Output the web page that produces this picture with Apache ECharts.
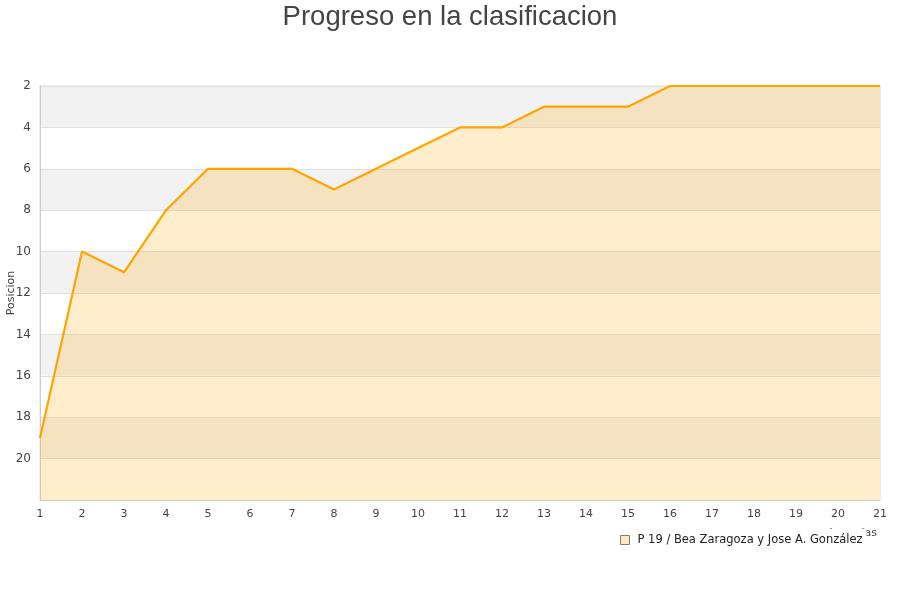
<!DOCTYPE html>
<html><head><meta charset="utf-8">
<script src="https://cdn.jsdelivr.net/npm/echarts@6/dist/echarts.min.js"></script>
<style>html,body{margin:0;padding:0;background:#fff}#c{width:900px;height:600px}</style>
</head><body><div id="c"></div>
<script>
var jornadas = [1,2,3,4,5,6,7,8,9,10,11,12,13,14,15,16,17,18,19,20,21];
var posiciones = [19,10,11,8,6,6,6,7,6,5,4,4,3,3,3,2,2,2,2,2,2];
var seriesName = 'P 19 / Bea Zaragoza y Jose A. González';
var titleText = 'Progreso en la clasificacion';
var yName = 'Posicion';
var xName = 'Jornadas';

var chart = echarts.init(document.getElementById('c'));
chart.setOption({
  animation: false,
  title: { text: titleText, left: 'center', top: -2,
    textStyle: { fontFamily: 'Liberation Sans', fontSize: 27.5, fontWeight: 'normal', color: '#444' } },
  grid: { left: 40, right: 20, top: 86, bottom: 100, show: true, borderColor: '#dcdcdc', borderWidth: 1, backgroundColor: 'transparent', outerBoundsMode: 'none', containLabel: false },
  legend: {
    left: 614, top: 529, padding: [5, 4, 6, 6], backgroundColor: '#fff',
    itemWidth: 9, itemHeight: 9, icon: 'rect', itemGap: 8,
    textStyle: { fontFamily: 'DejaVu Sans', fontSize: 11.5, color: '#222', padding: [0, 0, 0, 3] },
    data: [{ name: seriesName, itemStyle: { color: '#fde9c4', borderColor: '#8a7a60', borderWidth: 1 } }]
  },
  xAxis: {
    type: 'value', min: 1, max: 21, interval: 1,
    name: xName, nameLocation: 'end', nameGap: 0, nameMoveOverlap: false,
    nameTextStyle: { fontFamily: 'DejaVu Sans', fontSize: 11, color: '#444', align: 'right', verticalAlign: 'top', padding: [28, 3, 0, 0] },
    axisLine: { lineStyle: { color: '#cccccc' } },
    axisTick: { show: false },
    splitLine: { show: false },
    axisLabel: { fontFamily: 'DejaVu Sans', fontSize: 11, color: '#444', margin: 9 }
  },
  yAxis: {
    type: 'value', inverse: true, min: 2, max: 22, interval: 2,
    name: yName, nameLocation: 'middle', nameGap: 23, nameMoveOverlap: false,
    nameTextStyle: { fontFamily: 'DejaVu Sans', fontSize: 11, color: '#444' },
    axisLine: { show: true, lineStyle: { color: '#cccccc' } },
    axisTick: { show: false },
    axisLabel: { fontFamily: 'DejaVu Sans', fontSize: 12, color: '#444', margin: 9, showMaxLabel: false },
    splitLine: { show: true, lineStyle: { color: '#e0e0e0' } },
    splitArea: { show: true, areaStyle: { color: ['#f2f2f2', '#ffffff'] } }
  },
  series: [{
    name: seriesName, type: 'line',
    data: jornadas.map(function (j, i) { return [j, posiciones[i]]; }),
    symbol: 'none',
    lineStyle: { color: '#ffa500', width: 2.2 },
    itemStyle: { color: '#ffa500' },
    areaStyle: { color: 'rgba(255,165,0,0.2)', opacity: 1, origin: 'end' }
  }]
});
</script></body></html>
